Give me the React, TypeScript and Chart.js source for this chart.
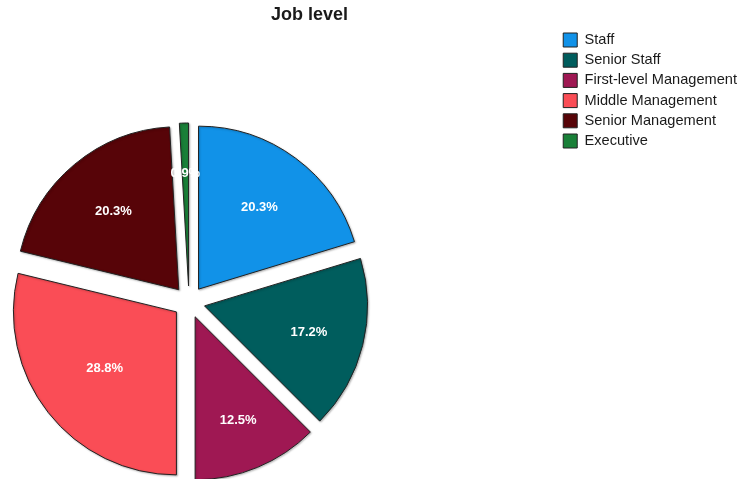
import React, { useEffect, useRef } from 'react';
import { Chart, ArcElement, PieController, Legend, Title } from 'chart.js';

// ---- data ----
const categories = [
  'Staff',
  'Senior Staff',
  'First-level Management',
  'Middle Management',
  'Senior Management',
  'Executive',
];
const percentages = [20.3, 17.2, 12.5, 28.8, 20.3, 0.9];
const sliceColors = ['#1192e8', '#005d5d', '#9f1853', '#fa4d56', '#570408', '#198038'];
const chartTitle = 'Job level';

// ---- style / layout ----
const FONT = "'Liberation Sans', Arial, Helvetica, sans-serif";
const EXPLODE = 16;
const PIE_RADIUS = 163;
const PIE_CENTER = { x: 189, y: 302 };
const LABEL_MAX_FRAC = 0.69;

class ExplodedArc extends ArcElement {
  static id = 'explodedArc';
  draw(ctx: CanvasRenderingContext2D) {
    const self: any = this;
    const mid = (self.startAngle + self.endAngle) / 2;
    ctx.save();
    ctx.translate(Math.cos(mid) * EXPLODE, Math.sin(mid) * EXPLODE);
    ctx.shadowColor = 'rgba(0,0,0,0.25)';
    ctx.shadowBlur = 2;
    ctx.shadowOffsetX = 1;
    ctx.shadowOffsetY = 1;
    super.draw(ctx);
    ctx.restore();
  }
}

class ExplodedPieController extends PieController {
  static id = 'explodedPie';
  static defaults = { dataElementType: 'explodedArc' };
}

Chart.register(ArcElement, PieController, Legend, Title, ExplodedArc, ExplodedPieController as any);

const pieCenterPlugin = {
  id: 'pieCenter',
  afterLayout(chart: any) {
    const h = PIE_RADIUS;
    chart.chartArea = {
      left: PIE_CENTER.x - h,
      right: PIE_CENTER.x + h,
      top: PIE_CENTER.y - h,
      bottom: PIE_CENTER.y + h,
      width: 2 * h,
      height: 2 * h,
    };
  },
};

// label at the centre of the slice's inscribed circle (capped)
const sliceLabelPlugin = {
  id: 'sliceLabels',
  afterDatasetsDraw(chart: any) {
    const meta = chart.getDatasetMeta(0);
    const ctx = chart.ctx as CanvasRenderingContext2D;
    ctx.save();
    ctx.font = `bold 13px ${FONT}`;
    ctx.fillStyle = '#ffffff';
    ctx.textAlign = 'center';
    ctx.textBaseline = 'middle';
    meta.data.forEach((arc: any, i: number) => {
      const { x, y, startAngle, endAngle, outerRadius } = arc.getProps(
        ['x', 'y', 'startAngle', 'endAngle', 'outerRadius'],
        true
      );
      const mid = (startAngle + endAngle) / 2;
      const half = (endAngle - startAngle) / 2;
      const inscribed = outerRadius / (1 + Math.sin(Math.min(half, Math.PI / 2)));
      const d = EXPLODE + Math.min(inscribed, outerRadius * LABEL_MAX_FRAC);
      ctx.fillText(percentages[i].toFixed(1) + '%', x + Math.cos(mid) * d, y + Math.sin(mid) * d);
    });
    ctx.restore();
  },
};

export default function App() {
  const ref = useRef<HTMLCanvasElement>(null);
  useEffect(() => {
    if (!ref.current) return;
    const chart = new Chart(ref.current, {
      type: 'explodedPie' as any,
      data: {
        labels: categories,
        datasets: [
          {
            data: percentages,
            backgroundColor: sliceColors,
            borderColor: '#222222',
            borderWidth: 1,
            radius: PIE_RADIUS,
            clip: false,
          } as any,
        ],
      },
      options: {
        animation: false,
        responsive: true,
        maintainAspectRatio: false,
        layout: { padding: { left: -128, right: -5, top: 0, bottom: 0 } },
        plugins: {
          title: {
            display: true,
            text: chartTitle,
            color: '#1a1a1a',
            font: { family: FONT, size: 18, weight: 'bold' },
            padding: { top: 4, bottom: 1.5 },
          },
          legend: {
            position: 'right',
            align: 'start',
            fullSize: false,
            labels: {
              boxWidth: 14,
              boxHeight: 14,
              padding: 5.6,
              color: '#1a1a1a',
              font: { family: FONT, size: 14.6 },
            },
          },
          tooltip: { enabled: false },
        },
      } as any,
      plugins: [pieCenterPlugin, sliceLabelPlugin],
    });
    return () => chart.destroy();
  }, []);
  return (
    <div style={{ position: 'fixed', left: 0, top: 0, width: 742, height: 479 }}>
      <canvas ref={ref} />
    </div>
  );
}
